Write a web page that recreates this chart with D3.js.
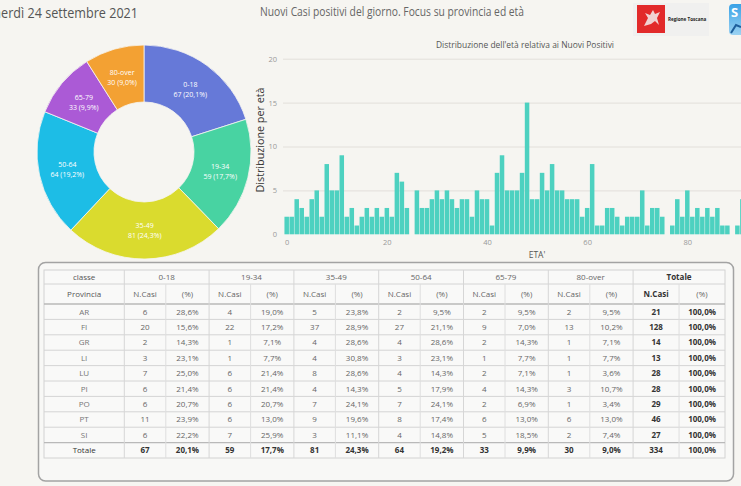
<!DOCTYPE html>
<html>
<head>
<meta charset="utf-8">
<script src="https://cdn.jsdelivr.net/npm/d3@7"></script>
<style>
  body { margin: 0; background: #f6f5f1; }
  svg { display: block; font-family: "Open Sans", "Noto Sans", sans-serif; }
</style>
</head>
<body>
<svg id="chart" width="741" height="486"></svg>
<script>
// ---- data ----
const classes = ["0-18", "19-34", "35-49", "50-64", "65-79", "80-over"];
const classColors = ["#6679d8", "#48d3a2", "#dadb2e", "#1dbde6", "#ab5ad6", "#f3a133"];
const provinces = ["AR", "FI", "GR", "LI", "LU", "PI", "PO", "PT", "SI"];
const cases0_18  = [6, 20, 2, 3, 7, 6, 6, 11, 6];
const cases19_34 = [4, 22, 1, 1, 6, 6, 6, 6, 7];
const cases35_49 = [5, 37, 4, 4, 8, 4, 7, 9, 3];
const cases50_64 = [2, 27, 4, 3, 4, 5, 7, 8, 4];
const cases65_79 = [2, 9, 2, 1, 2, 4, 2, 6, 5];
const cases80_over = [2, 13, 1, 1, 1, 3, 1, 6, 2];
// new positives per year of age, index = age (last ones fall off the crop)
const ageCounts = [
  2, 2, 4, 3, 2, 4, 5, 2, 8, 5, 5, 9, 2, 3, 1, 2, 3, 2, 3, 2, 3, 2,
  7, 6, 3, 0, 5, 3, 3, 4, 5, 4, 5, 4, 3, 4, 4, 2, 5, 4, 4, 1, 7,
  9, 5, 5, 5, 7, 15, 4, 4, 7, 5, 8, 5, 5, 4, 4, 4, 2, 3, 8, 1,
  1, 3, 3, 2, 1, 2, 2, 2, 5, 1, 3, 3, 2, 0, 1, 4, 2, 5, 2, 3, 2, 3, 2, 3, 1, 1, 0, 1, 4, 2
];
const yTicks = [0, 5, 10, 15, 20];
const xTicks = [0, 20, 40, 60, 80];

const casesByClass = [cases0_18, cases19_34, cases35_49, cases50_64, cases65_79, cases80_over];
const provTotals = provinces.map((p, i) => d3.sum(casesByClass, c => c[i]));
const classTotals = casesByClass.map(c => d3.sum(c));
const grandTotal = d3.sum(classTotals);
const pct = (v, t) => d3.format(".1f")(v / t * 100).replace(".", ",") + "%";

const svg = d3.select("#chart");

// ---- header ----
svg.append("text")
  .attr("x", -20).attr("y", 18)
  .attr("textLength", 158).attr("lengthAdjust", "spacingAndGlyphs")
  .style("font-size", "14px").style("fill", "#555")
  .text("venerdì 24 settembre 2021");

svg.append("text")
  .attr("x", 260).attr("y", 16)
  .attr("textLength", 264).attr("lengthAdjust", "spacingAndGlyphs")
  .style("font-size", "12.5px").style("fill", "#666")
  .text("Nuovi Casi positivi del giorno. Focus su provincia ed età");

// logos
const logo = svg.append("g");
logo.append("rect").attr("x", 633).attr("y", 3).attr("width", 76).attr("height", 33).attr("fill", "#f0f0ef");
logo.append("rect").attr("x", 637).attr("y", 5).attr("width", 28).attr("height", 28).attr("fill", "#e22a2a");
logo.append("path")
  .attr("d", "M644,26 L648,18 L645,13 L650,15 L653,10 L655,14 L660,12 L657,18 L659,25 L655,21 L651,24 Z")
  .attr("fill", "#f3e4e4").attr("opacity", 0.9);
logo.append("text").attr("x", 668).attr("y", 21)
  .style("font-size", "4.6px").style("font-weight", "bold").style("fill", "#222")
  .text("Regione Toscana");
const blue = svg.append("defs").append("linearGradient").attr("id", "bl")
  .attr("x1", 0).attr("y1", 0).attr("x2", 0).attr("y2", 1);
blue.append("stop").attr("offset", 0).attr("stop-color", "#3aa2e6");
blue.append("stop").attr("offset", 1).attr("stop-color", "#9bd2f2");
logo.append("rect").attr("x", 729).attr("y", 4).attr("width", 30).attr("height", 31).attr("rx", 4).attr("fill", "url(#bl)");
logo.append("text").attr("x", 731).attr("y", 17)
  .style("font-size", "13px").style("font-weight", "bold").style("fill", "#fff").text("S");
logo.append("path").attr("d", "M731,33 L736,25 L741,27").attr("stroke", "#1d5e9c").attr("stroke-width", 2).attr("fill", "none");

// ---- donut ----
const cx = 144, cy = 152, rOut = 107, rIn = 50;
const pie = d3.pie().sort(null).value(d => d.value);
const arc = d3.arc().innerRadius(rIn).outerRadius(rOut);
const slices = pie(classes.map((c, i) => ({ name: c, value: classTotals[i], color: classColors[i] })));
const donut = svg.append("g").attr("transform", `translate(${cx},${cy})`);
donut.selectAll("path").data(slices).enter().append("path")
  .attr("d", arc)
  .attr("fill", d => d.data.color)
  .attr("stroke", "#f6f5f1").attr("stroke-width", 0.8);
const lab = donut.selectAll("g.lab").data(slices).enter().append("g")
  .attr("class", "lab")
  .attr("transform", d => `translate(${arc.centroid(d)})`)
  .style("font-size", "7px").style("fill", "#fff").attr("text-anchor", "middle");
lab.append("text").attr("y", -2).text(d => d.data.name);
lab.append("text").attr("y", 8).text(d => `${d.data.value} (${pct(d.data.value, grandTotal)})`);

// ---- age histogram ----
const x = d3.scaleLinear().domain([0, 80]).range([286.7, 687.3]);
const y = d3.scaleLinear().domain([0, 20]).range([234.3, 58.7]);

svg.append("text")
  .attr("x", 525).attr("y", 48).attr("text-anchor", "middle")
  .attr("textLength", 178).attr("lengthAdjust", "spacingAndGlyphs")
  .style("font-size", "9.5px").style("fill", "#555")
  .text("Distribuzione dell'età relativa ai Nuovi Positivi");

const yAxis = svg.append("g")
  .attr("transform", "translate(283,0)")
  .call(d3.axisLeft(y).tickValues(yTicks).tickSize(-470).tickPadding(6));
yAxis.select(".domain").remove();
yAxis.selectAll(".tick line").attr("stroke", d => d === 0 ? "none" : "#e2dfda");
yAxis.selectAll(".tick text").style("font-size", "7.5px").style("fill", "#999").style("font-family", "Open Sans");

const xAxis = svg.append("g")
  .attr("transform", "translate(0,237)")
  .call(d3.axisBottom(x).tickValues(xTicks).tickSize(0).tickPadding(3));
xAxis.select(".domain").remove();
xAxis.selectAll(".tick text").style("font-size", "7.5px").style("fill", "#999").style("font-family", "Open Sans");

svg.append("g").selectAll("rect")
  .data(ageCounts.map((v, age) => ({ age, v })).filter(d => d.v > 0))
  .enter().append("rect")
  .attr("x", d => x(d.age - 0.45))
  .attr("width", x(0.9) - x(0))
  .attr("y", d => y(d.v))
  .attr("height", d => y(0) - y(d.v))
  .attr("fill", "#4dd1c0");

svg.append("text")
  .attr("transform", "translate(264,140) rotate(-90)")
  .attr("text-anchor", "middle")
  .attr("textLength", 105).attr("lengthAdjust", "spacingAndGlyphs")
  .style("font-size", "11px").style("fill", "#333")
  .text("Distribuzione per età");

svg.append("text")
  .attr("x", 537).attr("y", 258).attr("text-anchor", "middle")
  .style("font-size", "8.5px").style("fill", "#555")
  .text("ETA'");

// ---- table ----
svg.append("rect")
  .attr("x", 38.5).attr("y", 262.5).attr("width", 695).attr("height", 218.5).attr("rx", 7)
  .attr("fill", "#f8f8f6").attr("stroke", "#a3a3a3").attr("stroke-width", 1.5);

const tX0 = 44, tX1 = 725, col0 = 124.3, grpW = 84.8, nW = 41.5;
const totX = col0 + grpW * classes.length;
const h1 = 270, h2 = 284, r0 = 304, rowH = 15.4;
const nRows = provinces.length + 1;
const tY1 = r0 + rowH * nRows;

// column edges: [left, mid, right] per group
const groups = classes.map((c, g) => {
  const a = col0 + g * grpW;
  return { name: c, a, m: a + nW, b: a + grpW, bold: false };
});
groups.push({ name: "Totale", a: totX, m: totX + (tX1 - totX) / 2, b: tX1, bold: true });

const tbl = svg.append("g");
tbl.append("rect").attr("x", tX0).attr("y", h1).attr("width", tX1 - tX0).attr("height", tY1 - h1)
  .attr("fill", "#f9f9f8").attr("stroke", "#d2d2d2");

// horizontal rules
const hLines = [h2, r0].concat(d3.range(1, nRows).map(i => r0 + i * rowH));
tbl.selectAll("line.h").data(hLines).enter().append("line")
  .attr("x1", tX0).attr("x2", tX1).attr("y1", d => d).attr("y2", d => d)
  .attr("stroke", (d, i) => (i === 1 || i === hLines.length - 1) ? "#b9b9b9" : "#d4d4d4")
  .attr("stroke-width", (d, i) => (i === 1 || i === hLines.length - 1) ? 1.4 : 1);
// vertical rules
tbl.selectAll("line.g").data([col0].concat(groups.slice(1).map(g => g.a))).enter().append("line")
  .attr("x1", d => d).attr("x2", d => d).attr("y1", h1).attr("y2", tY1).attr("stroke", "#d6d6d6");
tbl.selectAll("line.m").data(groups.map(g => g.m)).enter().append("line")
  .attr("x1", d => d).attr("x2", d => d).attr("y1", h2).attr("y2", tY1).attr("stroke", "#dedede");

const cell = (xc, yc, txt, bold, color) => tbl.append("text")
  .attr("x", xc).attr("y", yc + 2.8).attr("text-anchor", "middle")
  .style("font-size", "8px").style("font-weight", bold ? "bold" : "normal")
  .style("fill", color || "#666").text(txt);

cell((tX0 + col0) / 2, (h1 + h2) / 2, "classe", false, "#555");
cell((tX0 + col0) / 2, (h2 + r0) / 2, "Provincia", false, "#555");
groups.forEach(g => {
  cell((g.a + g.b) / 2, (h1 + h2) / 2, g.name, g.bold, g.bold ? "#333" : "#666");
  cell((g.a + g.m) / 2, (h2 + r0) / 2, "N.Casi", g.bold, g.bold ? "#333" : "#666");
  cell((g.m + g.b) / 2, (h2 + r0) / 2, "(%)", false, "#666");
});

const rowNames = provinces.concat(["Totale"]);
rowNames.forEach((p, i) => {
  const yc = r0 + rowH * (i + 0.5);
  const isTot = i === provinces.length;
  const tot = isTot ? grandTotal : provTotals[i];
  cell((tX0 + col0) / 2, yc, p, false, isTot ? "#333" : "#777");
  casesByClass.forEach((c, g) => {
    const v = isTot ? classTotals[g] : c[i];
    cell((groups[g].a + groups[g].m) / 2, yc, v, isTot, isTot ? "#333" : "#666");
    cell((groups[g].m + groups[g].b) / 2, yc, pct(v, tot), isTot, isTot ? "#333" : "#666");
  });
  const G = groups[groups.length - 1];
  cell((G.a + G.m) / 2, yc, tot, true, "#333");
  cell((G.m + G.b) / 2, yc, pct(tot, tot), true, "#333");
});
</script>
</body>
</html>
